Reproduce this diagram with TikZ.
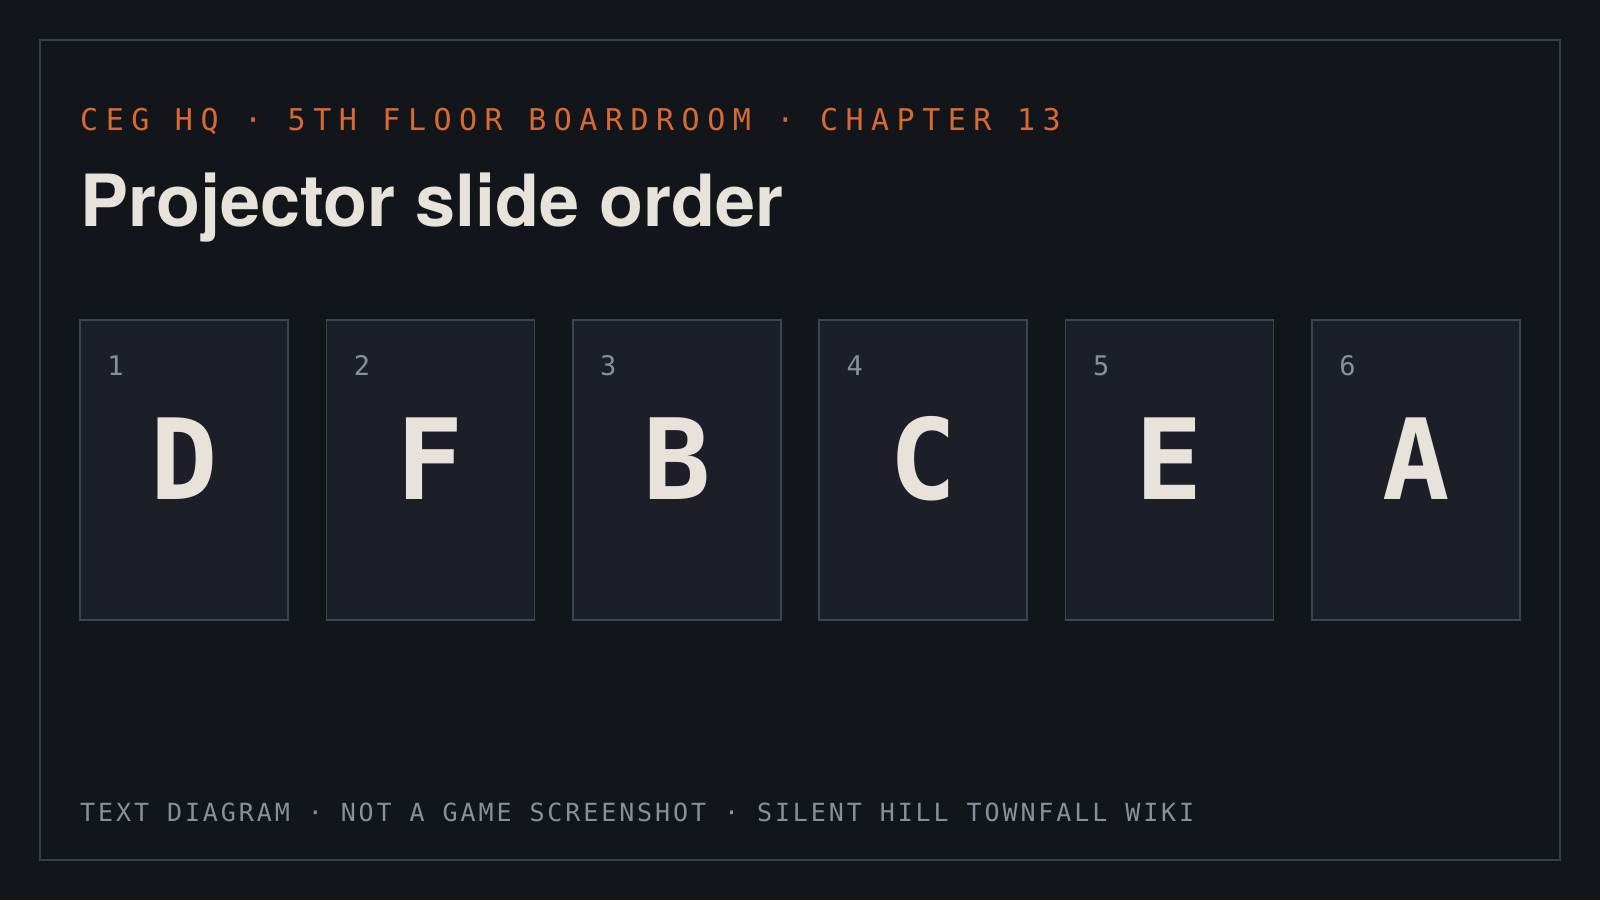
\documentclass[tikz,border=0pt]{standalone}
\usepackage{fontspec}
\setmainfont{TeX Gyre Heros}
\newfontfamily\slidemono{DejaVu Sans Mono}
\newfontfamily\kickermono[LetterSpace=25]{DejaVu Sans Mono}
\newfontfamily\footmono[LetterSpace=11.6]{DejaVu Sans Mono}
\definecolor{roombg}{HTML}{121519}
\definecolor{roomline}{HTML}{3A3F4B}
\definecolor{cardfill}{HTML}{1C1F28}
\definecolor{cardline}{HTML}{3F4451}
\definecolor{kicker}{HTML}{D96A33}
\definecolor{chalk}{HTML}{E7E3DB}
\definecolor{dimgray}{HTML}{8A909B}
\begin{document}
\begin{tikzpicture}[x=1pt,y=-1pt,
	slidecard/.style={draw=cardline,fill=cardfill,line width=1.6pt,minimum width=208pt,minimum height=300pt,inner sep=0pt},
	cardnum/.style={text=dimgray,inner sep=0pt,anchor=base west,font=\slidemono\fontsize{27}{30}\selectfont},
	cardletter/.style={text=chalk,inner sep=0pt,anchor=base,font=\slidemono\bfseries\fontsize{112}{120}\selectfont}]
	\fill[roombg] (0,0) rectangle (1600,900);
	\useasboundingbox (0,0) rectangle (1600,900);
	\draw[roomline,line width=1.5pt] (40,40) rectangle (1560,860);
	\node[anchor=base west,inner sep=0pt,text=kicker,font=\kickermono\fontsize{30}{36}\selectfont] (kicker) at (80,130) {CEG HQ · 5TH FLOOR BOARDROOM · CHAPTER 13};
	\node[anchor=base west,inner sep=0pt,text=chalk,font=\bfseries\fontsize{72}{80}\selectfont] (title) at (80,226) {Projector slide order};
	\foreach[count=\i] \s in {D,F,B,C,E,A} {
			\node[slidecard] (card\i) at ({184+(\i-1)*246.4},470) {};
			\node[cardnum] (num\i) at ([shift={(28,56)}]card\i.north west) {\i};
			\node[cardletter] (slide\i) at ([shift={(0,180)}]card\i.north) {\s};
		}
	\node[anchor=base west,inner sep=0pt,text=dimgray,font=\footmono\fontsize{25}{30}\selectfont] (footnote) at (80,821) {TEXT DIAGRAM · NOT A GAME SCREENSHOT · SILENT HILL TOWNFALL WIKI};
\end{tikzpicture}
\end{document}
